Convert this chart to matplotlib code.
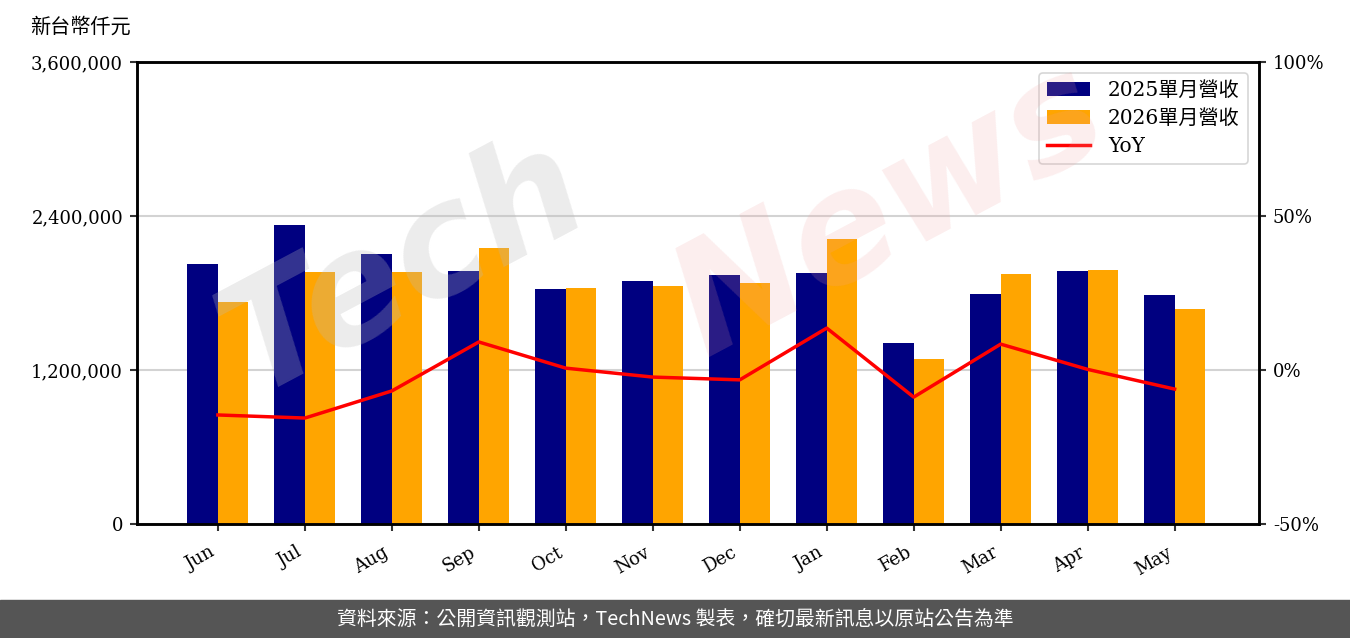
import matplotlib
matplotlib.use("Agg")
import matplotlib.pyplot as plt
import numpy as np
from matplotlib.patches import Rectangle

months = ["Jun", "Jul", "Aug", "Sep", "Oct", "Nov", "Dec", "Jan", "Feb", "Mar", "Apr", "May"]
rev_2025 = [2026000, 2330000, 2104000, 1971000, 1831000, 1893000, 1940000, 1956000, 1410000, 1792000, 1971000, 1784000]
rev_2026 = [1730000, 1963000, 1963000, 2151000, 1839000, 1855000, 1878000, 2221000, 1286000, 1948000, 1979000, 1675000]
yoy = [-14.6, -15.6, -6.8, 9.1, 0.6, -2.3, -3.2, 13.6, -8.8, 8.4, 0.2, -6.2]
left_ticks = [0, 1200000, 2400000, 3600000]
right_ticks = [-50, 0, 50, 100]

serif = ['DejaVu Serif', 'Noto Sans CJK TC']
plt.rcParams['font.family'] = serif

fig = plt.figure(figsize=(13.5, 6.38), dpi=100)
ax = fig.add_axes([137/1350, 1-524/638, (1259-137)/1350, (524-62)/638])

x = np.arange(len(months))
w = 0.35
ax.bar(x - w/2, rev_2025, w, color='#000080', label='2025單月營收', zorder=2)
ax.bar(x + w/2, rev_2026, w, color='#FFA500', label='2026單月營收', zorder=2)
ax.set_ylim(0, 3600000)
ax.set_xlim(-0.93, 11.97)
ax.set_yticks(left_ticks)
ax.set_yticklabels([f"{v:,}" for v in left_ticks], fontsize=13)
ax.yaxis.grid(True, color='#d3d3d3', linewidth=1.5, zorder=0)
ax.set_axisbelow(True)
ax.set_xticks(x)
ax.set_xticklabels(months, rotation=30, fontsize=13, ha='right')

ax2 = ax.twinx()
ax2.set_position(ax.get_position())
line, = ax2.plot(x, yoy, color='red', linewidth=2.5, label='YoY', zorder=3)
ax2.set_ylim(-50, 100)
ax2.set_yticks(right_ticks)
ax2.set_yticklabels([f"{v}%" for v in right_ticks], fontsize=13)

for a in (ax, ax2):
    for s in a.spines.values():
        s.set_linewidth(1.8)
        s.set_color('black')
    a.tick_params(width=1.5, length=5, color='#333333', pad=5)
ax.tick_params(axis='x', pad=9)

h1, l1 = ax.get_legend_handles_labels()
h2, l2 = ax2.get_legend_handles_labels()
leg = ax2.legend(h1 + h2, l1 + l2, loc='upper right', fontsize=14.5, frameon=True,
                 borderaxespad=0.55, handlelength=2.15, labelspacing=0.45, handletextpad=0.9)
leg.get_frame().set_edgecolor('#cccccc')
leg.get_frame().set_linewidth(1.2)

# watermark
fig.text(0.30, 0.58, "Tech", fontsize=110, color='#bbbbbb', alpha=0.28, rotation=28,
         ha='center', va='center', family='DejaVu Sans', fontweight='bold', style='italic', zorder=0)
fig.text(0.66, 0.67, "News", fontsize=110, color='#f0a0a0', alpha=0.18, rotation=28,
         ha='center', va='center', family='DejaVu Sans', fontweight='bold', style='italic', zorder=0)

fig.text(30/1350, 1-27/638, "新台幣仟元", fontsize=14.5, ha='left', va='center', family=serif)

fig.patches.append(Rectangle((0, 0), 1, 38/638, transform=fig.transFigure, color='#555555', zorder=-1))
fig.text(0.5, 19/638, "資料來源：公開資訊觀測站，TechNews 製表，確切最新訊息以原站公告為準", color='white',
         fontsize=14.3, ha='center', va='center', family=['Noto Sans CJK TC', 'DejaVu Sans'])

fig.savefig("out.png", dpi=100)
